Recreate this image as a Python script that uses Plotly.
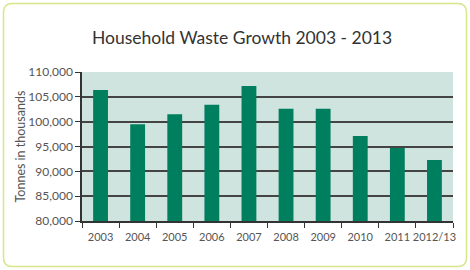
import plotly.graph_objects as go

years = ["2003", "2004", "2005", "2006", "2007", "2008", "2009", "2010", "2011", "2012/13"]
tonnes = [106400, 99500, 101500, 103400, 107200, 102600, 102600, 97100, 94700, 92300]
y_ticks = [80000, 85000, 90000, 95000, 100000, 105000, 110000]

L, R, T, B = 82, 17, 72, 49
W, H = 470, 270
pw, ph = W - L - R, H - T - B

def px(x):
    return (x - L) / pw

def py(y):
    return (H - B - y) / ph

x0, x1, y0, y1 = px(3.5), px(466.5), py(3.5), py(266.5)
rx, ry = 9 / pw, 9 / ph
path = (f"M {x0+rx},{y0} L {x1-rx},{y0} Q {x1},{y0} {x1},{y0-ry} "
        f"L {x1},{y1+ry} Q {x1},{y1} {x1-rx},{y1} L {x0+rx},{y1} "
        f"Q {x0},{y1} {x0},{y1+ry} L {x0},{y0-ry} Q {x0},{y0} {x0+rx},{y0} Z")

fig = go.Figure(go.Bar(x=years, y=tonnes, marker=dict(color="#007f5f", line=dict(width=0))))

fig.update_layout(
    width=W, height=H,
    margin=dict(l=L, r=R, t=T, b=B, autoexpand=False),
    paper_bgcolor="white",
    plot_bgcolor="#cfe4de",
    bargap=0.6,
    showlegend=False,
    font=dict(family="Lato", color="#555555", size=12),
    title=dict(text="Household Waste Growth 2003 - 2013", x=0.515, xanchor="center",
               y=1 - 38 / H, yanchor="middle",
               font=dict(family="Lato", size=17.5, color="#333333")),
    shapes=[dict(type="path", path=path, xref="paper", yref="paper",
                 line=dict(color="#d6e68a", width=1.5), fillcolor="rgba(0,0,0,0)", layer="below")],
    annotations=[dict(text="Tonnes in thousands", textangle=-90, showarrow=False,
                      xref="paper", yref="paper", x=px(20), y=py(146.5),
                      xanchor="center", yanchor="middle",
                      font=dict(family="Lato", size=12.5, color="#555555"))],
)
fig.update_xaxes(showline=True, linecolor="#333333", linewidth=1.5, automargin=False,
                 ticks="outside", tickson="boundaries", ticklen=5, tickcolor="#333333",
                 ticklabelstandoff=5,
                 tickangle=0, tickfont=dict(size=11, color="#555555"), showgrid=False)
fig.update_yaxes(range=[80000, 110000], tickvals=y_ticks, tickformat=",", automargin=False,
                 showline=True, linecolor="#333333", linewidth=1.5,
                 ticks="outside", ticklen=5, tickcolor="#333333",
                 showgrid=True, gridcolor="#444444", gridwidth=1.5,
                 tickfont=dict(size=12, color="#555555"))

fig.write_html("out.html", config={"displayModeBar": False},
               post_script="document.body.style.margin='0';document.body.style.overflow='hidden';")
